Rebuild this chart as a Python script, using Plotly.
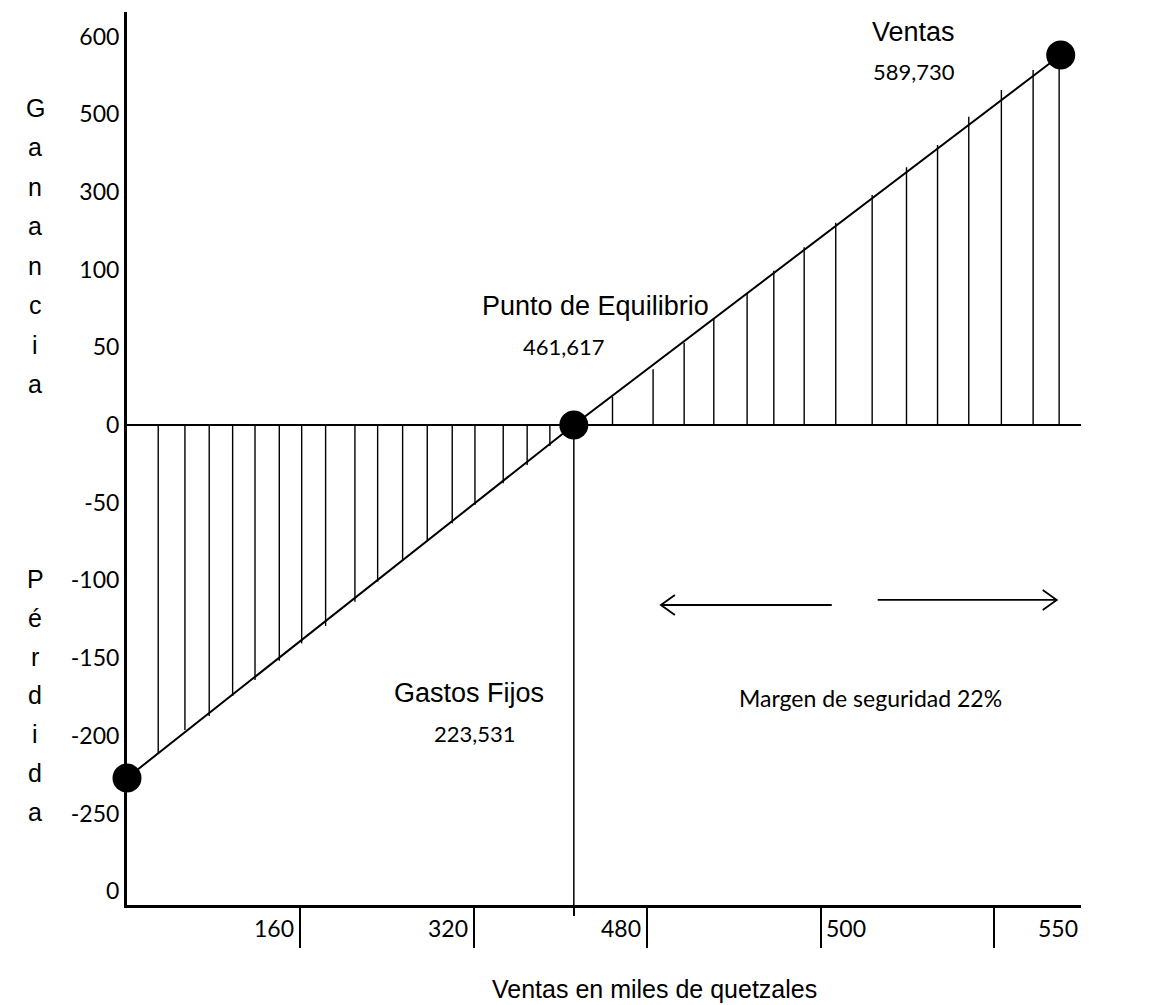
import plotly.graph_objects as go

# ---------------- data (axis units: x = tick index, y = tick index) ----------------
y_tick_pos = [-6, -5, -4, -3, -2, -1, 0, 1, 2, 3, 4, 5]
y_tick_text = ["0", "-250", "-200", "-150", "-100", "-50", "0", "50", "100", "300", "500", "600"]

x_tick_pos = [1, 2, 3, 4, 5]
x_tick_text = ["160", "320", "480", "500", "550"]

# result line: Gastos Fijos -> Punto de Equilibrio -> Ventas
line_x = [0.0, 2.576, 5.383]
line_y = [-4.543, 0.0, 4.762]

breakeven_x = 2.576

# hatch lines in the loss area (x, depth)
loss_x = [0.180, 0.334, 0.474, 0.609, 0.738, 0.878, 1.007, 1.145, 1.314, 1.445,
          1.589, 1.731, 1.875, 2.006, 2.169, 2.307, 2.438]
loss_y = [-4.225, -3.925, -3.745, -3.488, -3.282, -3.033, -2.810, -2.587, -2.274, -2.017,
          -1.746, -1.480, -1.265, -1.030, -0.750, -0.515, -0.270]

# hatch lines in the profit area (x, height)
profit_x = [2.799, 3.033, 3.212, 3.383, 3.575, 3.729, 3.904, 4.086, 4.296, 4.494,
            4.673, 4.853, 5.041, 5.224, 5.374]
profit_y = [0.364, 0.717, 1.059, 1.373, 1.695, 1.986, 2.287, 2.604, 2.960, 3.317,
            3.604, 3.968, 4.311, 4.569, 4.698]

# margin-of-safety arrows: (tail x, tip x, y)
arrows = [(4.063, 3.078, -2.317), (4.328, 5.360, -2.252)]

# labels
ventas_label = ("Ventas", "589,730", 4.536)
equilibrio_label = ("Punto de Equilibrio", "461,617")
gastos_label = ("Gastos Fijos", "223,531")
margen_label = "Margen de seguridad 22%"
x_title = "Ventas en miles de quetzales"
ganancia_letters = list("Ganancia")
perdida_letters = list("Pérdida")

# ---------------- figure ----------------
ARIAL = "Liberation Sans, Arial, sans-serif"
CALIBRI = "Lato, Calibri, sans-serif"
X_RANGE = [0, 5.5]
Y_RANGE = [-6.178, 5.315]
PX_X = 173.5   # px per x unit
PX_Y = 77.7    # px per y unit

fig = go.Figure()

# hatch lines
hx, hy = [], []
for x, y in zip(loss_x + profit_x, loss_y + profit_y):
    hx += [x, x, None]
    hy += [0, y, None]
fig.add_trace(go.Scatter(x=hx, y=hy, mode="lines",
                         line=dict(color="black", width=1.4), hoverinfo="skip"))

# vertical line at break-even down to the x axis
fig.add_trace(go.Scatter(x=[breakeven_x, breakeven_x], y=[0, Y_RANGE[0]], mode="lines",
                         line=dict(color="black", width=1.5), hoverinfo="skip"))

# main line
fig.add_trace(go.Scatter(x=line_x, y=line_y, mode="lines",
                         line=dict(color="black", width=2), hoverinfo="skip"))

# dots
fig.add_trace(go.Scatter(x=line_x, y=line_y, mode="markers",
                         marker=dict(color="black", size=29, symbol="circle"),
                         cliponaxis=False, hoverinfo="skip"))

# arrows
dx = 14 / PX_X
dy = 10 / PX_Y
for tail, tip, y in arrows:
    sgn = 1 if tip > tail else -1
    ax = [tail, tip, None, tip - sgn * dx, tip, tip - sgn * dx]
    ay = [y, y, None, y + dy, y, y - dy]
    fig.add_trace(go.Scatter(x=ax, y=ay, mode="lines",
                             line=dict(color="black", width=1.8), hoverinfo="skip"))

ann = []
# x tick labels
for i, (v, t) in enumerate(zip(x_tick_pos, x_tick_text)):
    if i < 3:
        ann.append(dict(x=v, y=0, xref="x", yref="paper", text=t, showarrow=False,
                        xanchor="right", yanchor="middle", xshift=-4, yshift=-23,
                        font=dict(family=CALIBRI, size=23, color="black")))
    else:
        ann.append(dict(x=v, y=0, xref="x", yref="paper", text=t, showarrow=False,
                        xanchor="left", yanchor="middle", xshift=3 if i == 3 else 42, yshift=-23,
                        font=dict(family=CALIBRI, size=23, color="black")))

# x axis title
ann.append(dict(x=3.04, y=0, xref="x", yref="paper", text=x_title, showarrow=False,
                xanchor="center", yanchor="middle", yshift=-84,
                font=dict(family=ARIAL, size=25, color="black")))

# vertical words
for k, ch in enumerate(ganancia_letters):
    ann.append(dict(x=0, y=4.08 - 0.508 * k, xref="paper", yref="y", text=ch, showarrow=False,
                    xanchor="center", yanchor="middle", xshift=-92,
                    font=dict(family=ARIAL, size=25, color="black")))
for k, ch in enumerate(perdida_letters):
    ann.append(dict(x=0, y=-1.98 - 0.5 * k, xref="paper", yref="y", text=ch, showarrow=False,
                    xanchor="center", yanchor="middle", xshift=-92,
                    font=dict(family=ARIAL, size=25, color="black")))

# chart labels
ann.append(dict(x=ventas_label[2], y=5.058, text=ventas_label[0], showarrow=False,
                font=dict(family=ARIAL, size=27, color="black")))
ann.append(dict(x=ventas_label[2], y=4.543, text=ventas_label[1], showarrow=False,
                font=dict(family=CALIBRI, size=22, color="black")))
ann.append(dict(x=2.703, y=1.532, text=equilibrio_label[0], showarrow=False,
                font=dict(family=ARIAL, size=27, color="black")))
ann.append(dict(x=2.519, y=1.004, text=equilibrio_label[1], showarrow=False,
                font=dict(family=CALIBRI, size=22, color="black")))
ann.append(dict(x=1.971, y=-3.449, text=gastos_label[0], showarrow=False,
                font=dict(family=ARIAL, size=27, color="black")))
ann.append(dict(x=2.006, y=-3.977, text=gastos_label[1], showarrow=False,
                font=dict(family=CALIBRI, size=22, color="black")))
ann.append(dict(x=4.288, y=-3.514, text=margen_label, showarrow=False,
                font=dict(family=CALIBRI, size=23, color="black")))

fig.update_layout(
    width=1156, height=1005,
    margin=dict(l=127, r=75, t=12, b=100, pad=0),
    paper_bgcolor="white", plot_bgcolor="white",
    showlegend=False,
    annotations=ann,
    xaxis=dict(range=X_RANGE, showgrid=False, zeroline=False,
               showline=True, linecolor="black", linewidth=3,
               ticks="outside", ticklen=40, tickwidth=2, tickcolor="black",
               tickvals=x_tick_pos, showticklabels=False,
               minor=dict(tickmode="array", tickvals=[breakeven_x], ticks="outside",
                          ticklen=8, tickwidth=1.5, tickcolor="black", showgrid=False)),
    yaxis=dict(range=Y_RANGE, showgrid=False,
               zeroline=True, zerolinecolor="black", zerolinewidth=2,
               showline=True, linecolor="black", linewidth=3,
               ticks="", tickvals=y_tick_pos, ticktext=y_tick_text,
               tickfont=dict(family=CALIBRI, size=23, color="black")),
)

fig.write_html("out.html", config={"displayModeBar": False},
               post_script="document.body.style.margin='0';")
